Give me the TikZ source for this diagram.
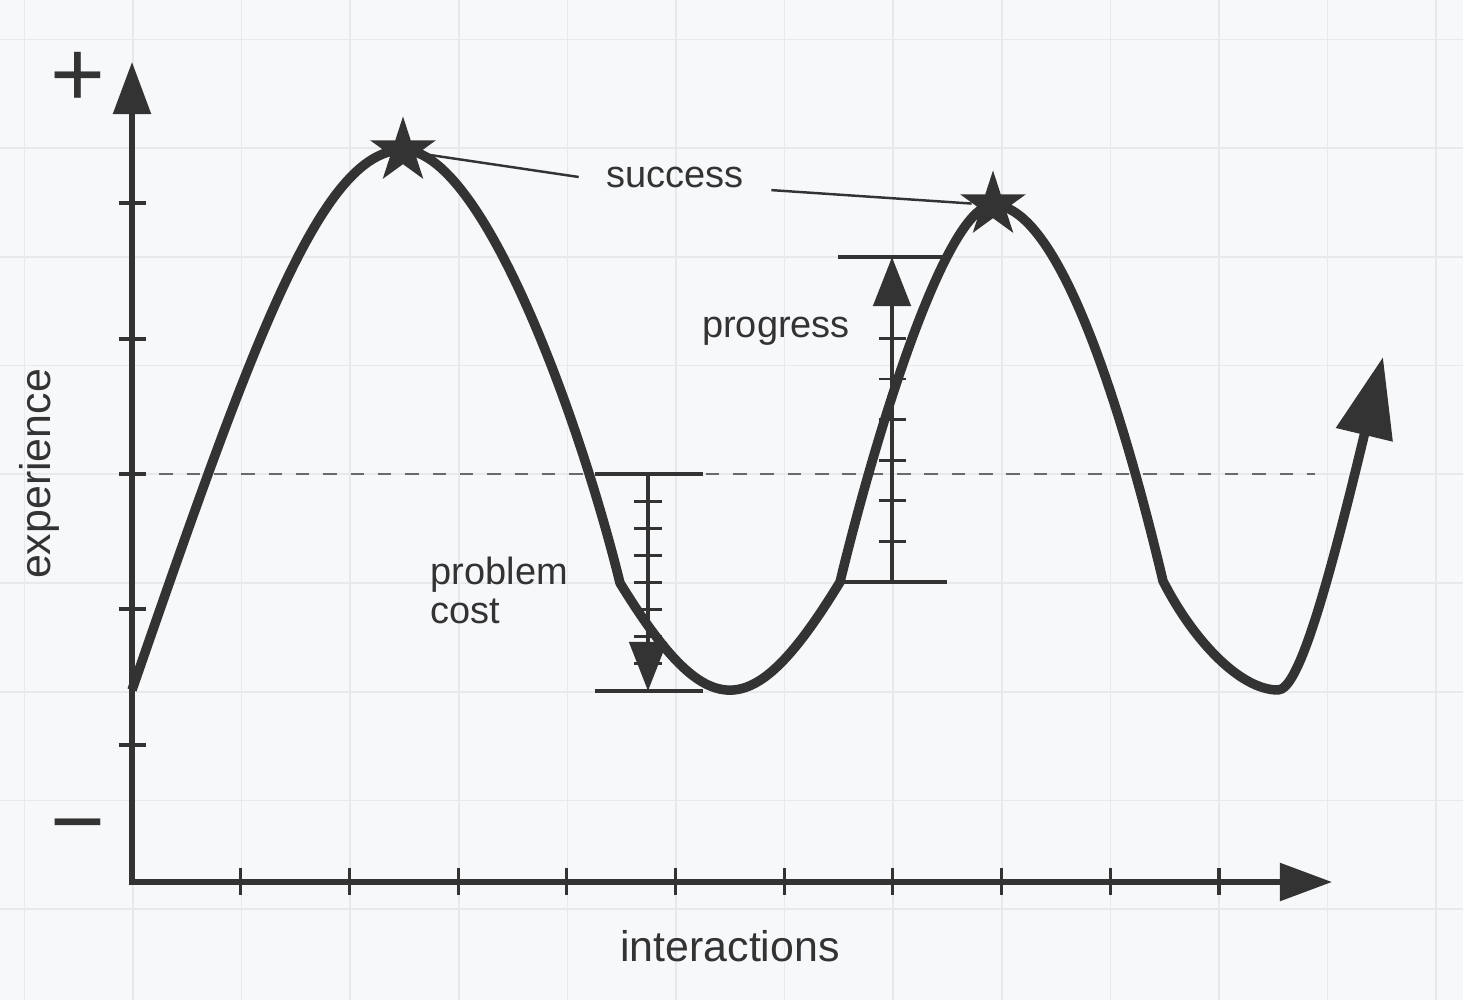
\documentclass[tikz,border=0pt]{standalone}
\usepackage{fontspec}
\setmainfont{Liberation Sans}
\usepackage{xcolor}
\usetikzlibrary{
    arrows.meta,
    shapes.geometric
}

\definecolor{ink}{HTML}{333333}
\definecolor{paper}{HTML}{F7F8FA}
\definecolor{gridgray}{HTML}{E7E9EC}
\definecolor{dashgray}{HTML}{6A6A6A}

\tikzset{
    axistip/.tip={Triangle[length=0.52cm, width=0.37cm]},
    gaugetip/.tip={Triangle[length=0.49cm, width=0.37cm]},
    wavetip/.tip={Triangle[length=0.8cm, width=0.56cm]}
}

\begin{document}
\begin{tikzpicture}[
        x=0.01cm, y=-0.01cm,
        gridline/.style={draw=gridgray, line width=0.5pt},
        axisline/.style={draw=ink, line width=1.55pt},
        axistick/.style={draw=ink, line width=0.9pt},
        wave/.style={draw=ink, line width=2.7pt, line join=round},
        gauge/.style={draw=ink, line width=1.35pt},
        gaugetick/.style={draw=ink, line width=0.85pt},
        leader/.style={draw=ink, line width=0.7pt},
        midline/.style={draw=dashgray, line width=0.85pt, dash pattern=on 3.84pt off 3.93pt},
        note/.style={text=ink, font=\fontsize{10.8}{11.1}\selectfont, inner sep=0pt},
        axislabel/.style={text=ink, font=\fontsize{12.2}{14}\selectfont, inner sep=0pt},
        signtext/.style={text=ink, font=\fontsize{26.7}{30}\selectfont, inner sep=0pt, anchor=base},
        starmark/.style={
            star,
            star points=5,
            star point ratio=2.618,
            fill=ink,
            minimum size=0.69cm,
            inner sep=0pt
        }
    ]
        \useasboundingbox (0,0) rectangle (1463,1000);
        \fill[paper] (0,0) rectangle (1463,1000);

        \foreach \gx in {0,...,13}
            \draw[gridline] ({24.4+108.6*\gx},0) -- ({24.4+108.6*\gx},1000);
        \foreach \gy in {0,...,8}
            \draw[gridline] (0,{39.5+108.7*\gy}) -- (1463,{39.5+108.7*\gy});

        \draw[midline] (132,474) -- (1315,474);

        % axes
        \draw[axisline, axistip-axistip] (132,62) -- (132,882) -- (1332,882);
        \foreach \ty in {203,339,474,609,745}
            \draw[axistick] (119,\ty) -- (146,\ty);
        \foreach \k in {1,...,10}
            \draw[axistick] ({132+108.7*\k},868) -- ++(0,27);

        \node[signtext] (plus) at (78,106) {+};
        \node[signtext] (minus) at (78,853) {−};
        \node[axislabel, rotate=90, anchor=base] (ylabel) at (51,474) {experience};
        \node[axislabel, anchor=base] (xlabel) at (730,961) {interactions};

        % problem cost
        \coordinate (costtop) at (648,474);
        \coordinate (costbot) at (648,691);
        \draw[gauge] (595,474) -- (703,474);
        \draw[gauge] (595,691) -- (703,691);
        \foreach \k in {1,...,7}
            \draw[gaugetick] (634,{474+27.1*\k}) -- ++(28,0);
        \draw[gauge, -gaugetip] (costtop) -- (costbot);
        \node[note, align=left, anchor=north west] (cost) at (430,556) {problem\\cost};

        % progress
        \coordinate (progbot) at (892,582);
        \coordinate (progtop) at (892,257);
        \draw[gauge] (838,257) -- (947,257);
        \draw[gauge] (838,582) -- (947,582);
        \foreach \k in {1,...,7}
            \draw[gaugetick] (879,{582-40.6*\k}) -- ++(27,0);
        \draw[gauge, -gaugetip] (progbot) -- (progtop);
        \node[note, anchor=base] (progress) at (776,337) {progress};

        \draw[wave, -wavetip] (132,690)
            .. controls (250,350) and (320,150) .. (403,150)
            .. controls (483,150) and (580,421) .. (620,583)
            .. controls (708,726) and (752,726) .. (840,582)
            .. controls (880,417) and (948,205) .. (993,205)
            .. controls (1063,205) and (1128,434) .. (1163,581)
            .. controls (1193,640) and (1240,690) .. (1278,690)
            .. controls (1298,690) and (1326,594) .. (1383,357);

        % success
        \node[starmark] (star1) at (403,151) {};
        \node[starmark] (star2) at (993,205) {};
        \node[note, inner xsep=0.27cm, inner ysep=0.02cm] (success) at (675,177) {success};
        \draw[leader] (star1) -- (success.west);
        \draw[leader] (success.south east) -- (star2);
    \end{tikzpicture}
\end{document}
